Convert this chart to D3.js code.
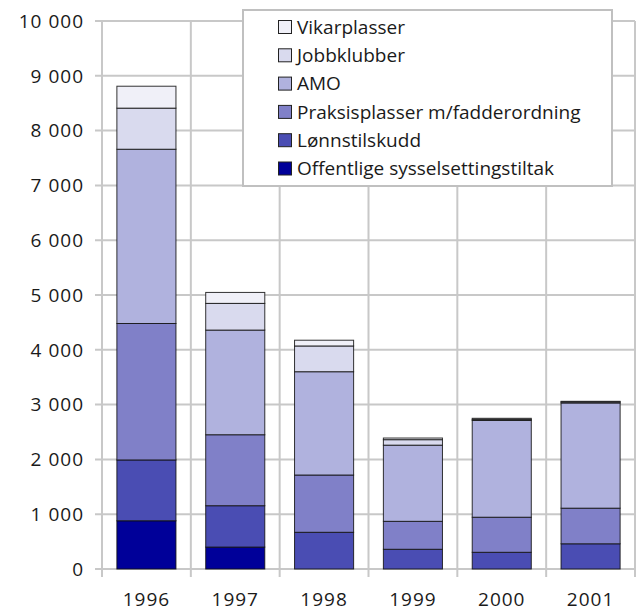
<!DOCTYPE html>
<html><head><meta charset="utf-8">
<script src="https://cdn.jsdelivr.net/npm/d3@7"></script>
<style>body{margin:0;background:#fff}svg{display:block}text{font-family:"Open Sans","Noto Sans",sans-serif;fill:#1a1a1a}</style>
</head><body><svg id="c" width="637" height="611"></svg>
<script>
const years = ["1996","1997","1998","1999","2000","2001"];
const seriesNames = ["Offentlige sysselsettingstiltak","Lønnstilskudd","Praksisplasser m/fadderordning","AMO","Jobbklubber","Vikarplasser"];
const offentlige = [880, 400, 0, 0, 0, 0];
const lonnstilskudd = [1110, 755, 670, 360, 305, 460];
const praksis = [2490, 1295, 1045, 510, 640, 650];
const amo = [3180, 1910, 1885, 1390, 1765, 1920];
const jobbklubber = [750, 487, 470, 100, 20, 20];
const vikarplasser = [400, 200, 105, 30, 20, 10];
const colors = ["#000099","#4a4db3","#8080c8","#b0b2de","#d9daee","#f0f0f8"];
const yTicks = [0,1000,2000,3000,4000,5000,6000,7000,8000,9000,10000];

const seriesValues = [offentlige, lonnstilskudd, praksis, amo, jobbklubber, vikarplasser];
const table = years.map((y,i)=>{const o={year:y}; seriesNames.forEach((s,k)=>o[s]=seriesValues[k][i]); return o;});
const stack = d3.stack().keys(seriesNames)(table);

const svg = d3.select("#c");
const L=102, R=635, T=21, B=569;
const x = d3.scaleBand().domain(years).range([L,R]).paddingInner(0.335).paddingOuter(0.1675);
const xb = d3.scaleBand().domain(years).range([L,R]);
const y = d3.scaleLinear().domain([0,10000]).range([B,T]);
const grid = "#c8c8c8";
const fmt = v => d3.format(",")(v).replace(/,/g," ");

svg.append("g").selectAll("line").data(yTicks).join("line")
  .attr("x1",95).attr("x2",R).attr("y1",d=>y(d)).attr("y2",d=>y(d))
  .attr("stroke",grid).attr("stroke-width",2);
const vb = years.map(d=>xb(d)).concat([R]);
svg.append("g").selectAll("line").data(vb).join("line")
  .attr("x1",d=>d).attr("x2",d=>d).attr("y1",T).attr("y2",B+8)
  .attr("stroke",grid).attr("stroke-width",2);

svg.append("g").selectAll("text").data(yTicks).join("text")
  .attr("x",84).attr("y",d=>y(d)).attr("dy","0.36em").attr("text-anchor","end")
  .attr("font-size",19).attr("letter-spacing",1).text(d=>fmt(d));
svg.append("g").selectAll("text").data(years).join("text")
  .attr("x",d=>xb(d)+xb.bandwidth()/2).attr("y",606).attr("text-anchor","middle")
  .attr("font-size",19).attr("letter-spacing",1).text(d=>d);

svg.append("g").selectAll("g").data(stack).join("g")
  .attr("fill",(d,i)=>colors[i])
  .selectAll("rect").data(d=>d.filter(p=>p[1]-p[0]>0)).join("rect")
  .attr("x",d=>x(d.data.year)).attr("width",x.bandwidth())
  .attr("y",d=>y(d[1])).attr("height",d=>y(d[0])-y(d[1]))
  .attr("stroke","#111").attr("stroke-width",1).attr("stroke-opacity",0.85);

const lg = svg.append("g");
lg.append("rect").attr("x",243).attr("y",10).attr("width",369).attr("height",176)
  .attr("fill","#fff").attr("stroke","#c0c0c0").attr("stroke-width",2);
const order = seriesNames.slice().reverse();
const ent = lg.selectAll("g").data(order).join("g")
  .attr("transform",(d,i)=>`translate(278,${27+i*28.3})`);
ent.append("rect").attr("x",0.5).attr("y",-6.5).attr("width",13).attr("height",13)
  .attr("fill",d=>colors[seriesNames.indexOf(d)]).attr("stroke","#222").attr("stroke-width",1);
ent.append("text").attr("x",19).attr("y",0).attr("dy","0.36em").attr("font-size",19).text(d=>d);
</script></body></html>
